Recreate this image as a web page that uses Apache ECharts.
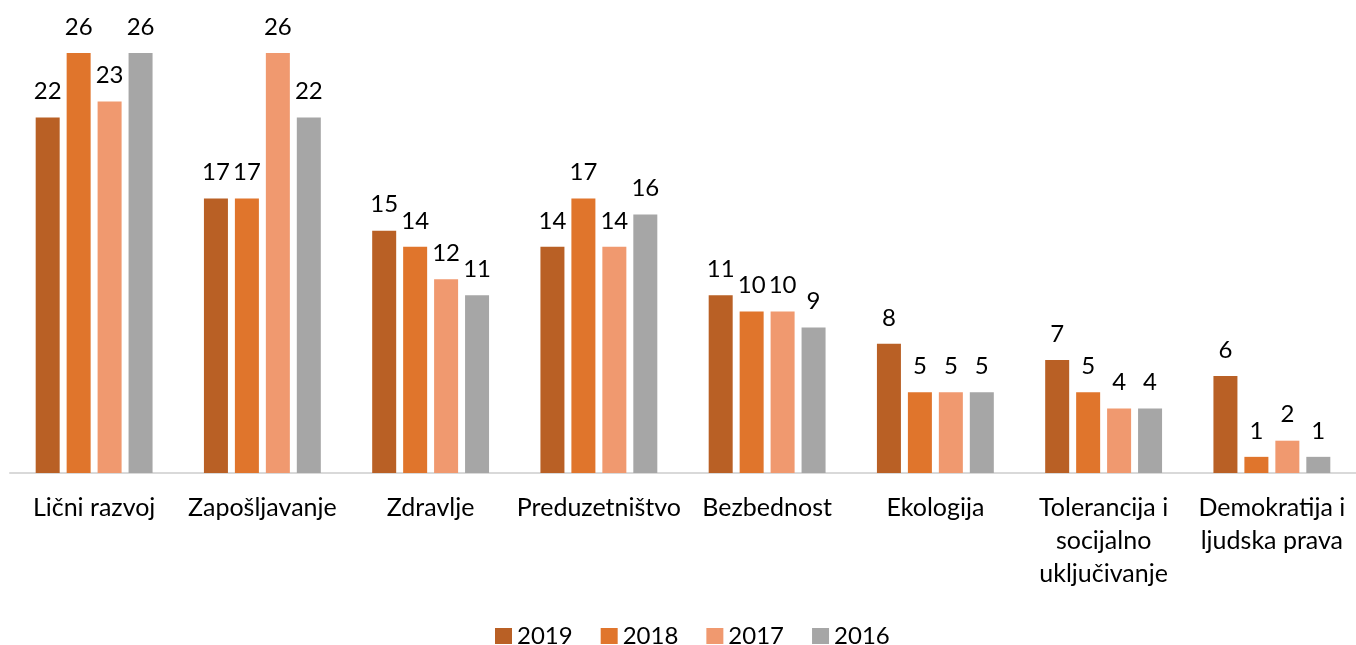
<!DOCTYPE html>
<html><head><meta charset="utf-8">
<script src="https://cdn.jsdelivr.net/npm/echarts@6/dist/echarts.min.js"></script>
<style>html,body{margin:0;padding:0;background:#fff}#c{width:1356px;height:645px}</style>
</head><body><div id="c"></div>
<script>
const categories = ["Lični razvoj","Zapošljavanje","Zdravlje","Preduzetništvo","Bezbednost","Ekologija","Tolerancija i\nsocijalno\nuključivanje","Demokratija i\nljudska prava"];
const seriesNames = ["2019","2018","2017","2016"];
const v2019 = [22,17,15,14,11,8,7,6];
const v2018 = [26,17,14,17,10,5,5,1];
const v2017 = [23,26,12,14,10,5,4,2];
const v2016 = [26,22,11,16,9,5,4,1];
const colors = ["#B96025","#E0752C","#F0996F","#A6A6A6"];
const values = [v2019,v2018,v2017,v2016];
const FONT = "Lato";
const chart = echarts.init(document.getElementById('c'));
chart.setOption({
  animation:false,
  textStyle:{fontFamily:FONT},
  grid:{left:10,top:53,width:1354,height:420,containLabel:false},
  legend:{
    data:seriesNames, left:495, top:624, padding:0, itemWidth:17, itemHeight:16, itemGap:28,
    icon:'rect',
    textStyle:{fontFamily:FONT,fontSize:24,color:'#000'}
  },
  xAxis:{
    type:'category', data:categories,
    axisLine:{lineStyle:{color:'#D9D9D9',width:2}},
    axisTick:{show:false},
    axisLabel:{interval:0,margin:18,fontFamily:FONT,fontSize:25,color:'#000',lineHeight:33}
  },
  yAxis:{type:'value',min:0,max:26,show:false,splitLine:{show:false}},
  series: seriesNames.map((n,i)=>({
    name:n, type:'bar', data:values[i], barWidth:24, barGap:'29%',
    itemStyle:{color:colors[i]},
    label:{show:true,position:'top',distance:14,fontFamily:FONT,fontSize:24,color:'#000'}
  }))
});
</script></body></html>
